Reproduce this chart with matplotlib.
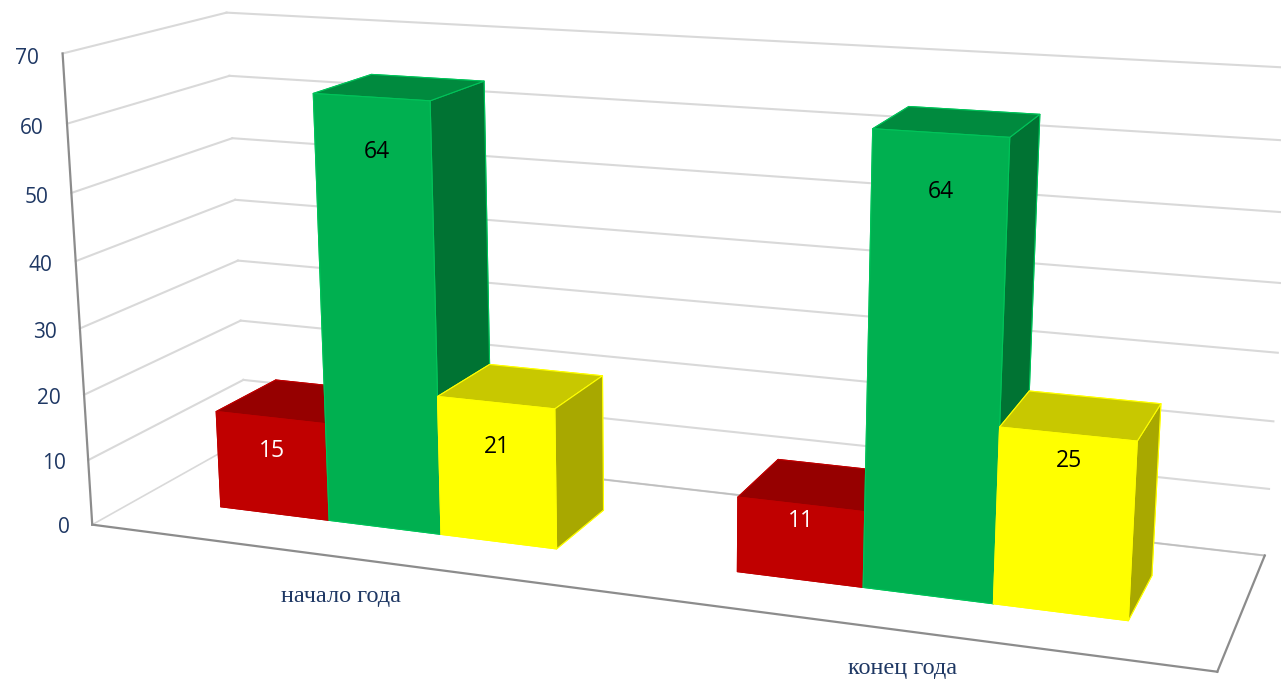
import numpy as np
import matplotlib
matplotlib.use('Agg')
import matplotlib.pyplot as plt

# ---- chart data ----
categories = ['начало года', 'конец года']
red_values = [15, 11]
green_values = [64, 64]
yellow_values = [21, 25]
value_ticks = [0, 10, 20, 30, 40, 50, 60, 70]

# ---- camera calibration: box corners (category, depth, value) <-> picture position ----
cal_w = np.array([(0,0,0),(0,0,70),(0,1,0),(0,1,70),(2,0,0),(2,1,0),(2,1,70),(0,0,10),
                  (0,0,40),(0,1,30),(2,1,30),(0,1,10),(2,1,10),(0,0,20),(0,1,50)], float)
cal_p = np.array([(92,525),(62,53),(246,438),(227,13),(1217,672),(1265,555),(1296,68),(88,460),
                  (76,261),(238,261),(1278,353),(243,380),(1269,489),(85,395),(232,138)], float)
W, H = 1281, 679
rows = []
for (X, Y, Z), (u, v) in zip(cal_w, cal_p):
    Z = Z / 70
    rows.append([X, Y, Z, 1, 0, 0, 0, 0, -u*X, -u*Y, -u*Z, -u])
    rows.append([0, 0, 0, 0, X, Y, Z, 1, -v*X, -v*Y, -v*Z, -v])
P = np.linalg.svd(np.array(rows))[2][-1].reshape(3, 4)
P[:, 2] /= 70
P /= P[2, 3]

fig = plt.figure(figsize=(W / 100, H / 100), dpi=100, facecolor='white')
ax = fig.add_axes([0, 0, 1, 1], projection='3d', computed_zorder=False)
ax.set_axis_off()
ax.apply_aspect = lambda position=None: None

x0, x1 = ax.viewLim.intervalx
y0, y1 = ax.viewLim.intervaly
to_view = np.array([[(x1 - x0) / W, 0, x0],
                    [0, -(y1 - y0) / H, y1],
                    [0, 0, 1]])
Pv = to_view @ P
M = np.vstack([Pv[0], Pv[1], [0, 0, 0, -0.5], Pv[2]])
ax.get_proj = lambda: M


def label(x, y, z, s, **kw):
    v = Pv @ np.array([x, y, z, 1.0])
    ax.text2D(v[0] / v[2], v[1] / v[2], s, transform=ax.transData, va='center', zorder=20, **kw)


# ---- walls, floor, grid ----
GRID = '#D9D9D9'
AXIS = '#8C8C8C'
for t in value_ticks:
    if t > 0:
        ax.plot([0, 0], [0, 1], [t, t], color=GRID, lw=1.5, zorder=1)
    ax.plot([0, 2], [1, 1], [t, t], color=GRID, lw=1.5, zorder=1)
ax.plot([0, 0], [0, 1], [0, 0], color=GRID, lw=1.2, zorder=1)
ax.plot([0, 2], [1, 1], [0, 0], color='#BFBFBF', lw=1.2, zorder=1.1)
ax.plot([0, 0], [0, 0], [0, 70], color=AXIS, lw=1.6, zorder=1.2)
ax.plot([0, 2], [0, 0], [0, 0], color=AXIS, lw=1.6, zorder=1.2)
ax.plot([2, 2], [0, 1], [0, 0], color=AXIS, lw=1.6, zorder=1.2)

# ---- bars ----
GAP = 1 / 6
BAR_W = 2 / 9
Y_FRONT, Y_BACK = 0.3, 0.7
# faces in bar3d order: bottom, top, front, back, left, right
series = [
    (red_values,    '#C00000', '#960000', '#780000', '#C00000', 'white'),
    (green_values,  '#00B050', '#008A3E', '#007333', '#00C45A', 'black'),
    (yellow_values, '#FFFF00', '#C8C800', '#A8A800', '#FFFF00', 'black'),
]
label_drop = {0: [5.2, 2.4], 1: [7.8, 7.8], 2: [6.6, 3.7]}
label_shift = [[0.0, 0.0], [0.008, 0.003], [0.001, 0.004]]
z = 3
for c in range(len(categories)):
    for s, (vals, front, top, side, edge, tc) in enumerate(series):
        left = c + GAP + s * BAR_W
        ax.bar3d(left, Y_FRONT, 0, BAR_W, Y_BACK - Y_FRONT, vals[c],
                 color=[front, top, front, side, side, side], shade=False,
                 edgecolor=edge, linewidth=0.8, zorder=z)
        label(left + BAR_W / 2 + label_shift[s][c], Y_FRONT, vals[c] - label_drop[s][c], str(vals[c]),
              color=tc, fontsize=16.5, family='Open Sans', ha='center')
        z += 1

# ---- tick and category labels ----
for t in value_ticks:
    label(-0.048, 0, t - 0.9, str(t), color='#1F3864', fontsize=15, family='Open Sans', ha='right')
cat_label_x = [0.587, 1.543]
cat_label_y = [-0.305, -0.272]
for c, name in enumerate(categories):
    label(cat_label_x[c], cat_label_y[c], 0, name, color='#1F3864', fontsize=17.5,
          family='Liberation Serif', ha='center')

fig.savefig('out.png', dpi=100)
